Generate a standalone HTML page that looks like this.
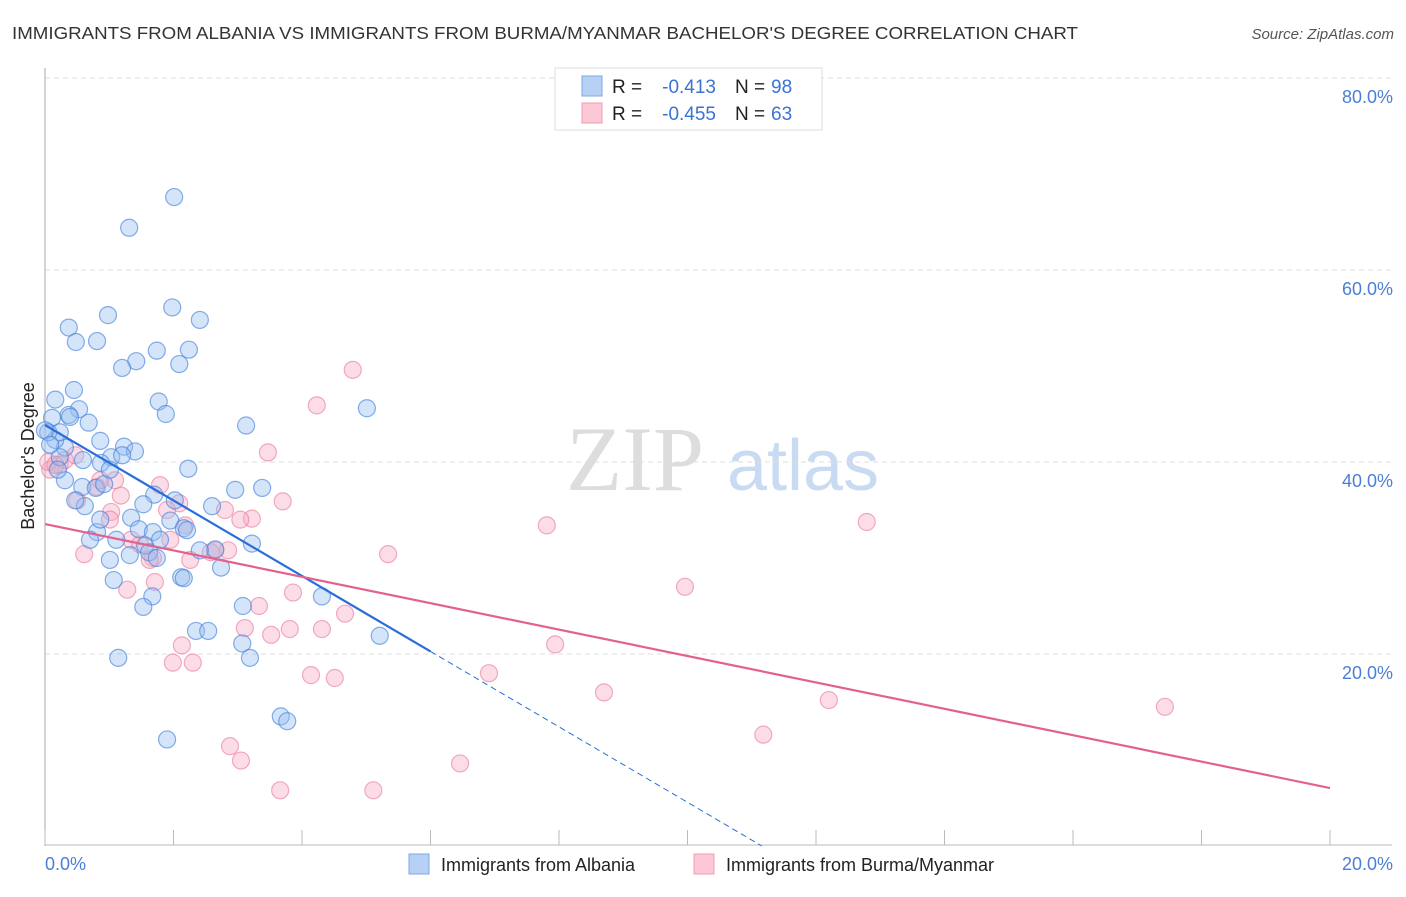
<!DOCTYPE html>
<html><head><meta charset="utf-8"><style>
body{margin:0;background:#fff;font-family:"Liberation Sans",sans-serif}
</style></head><body>
<svg id="c" width="1406" height="892" xmlns="http://www.w3.org/2000/svg">
<text x="12" y="39" font-size="17.5" fill="#333" textLength="1066" lengthAdjust="spacingAndGlyphs">IMMIGRANTS FROM ALBANIA VS IMMIGRANTS FROM BURMA/MYANMAR BACHELOR'S DEGREE CORRELATION CHART</text>
<text x="1394" y="39" font-size="15" fill="#555" font-style="italic" text-anchor="end">Source: ZipAtlas.com</text>
<g>
<text x="635" y="490" font-size="92" fill="#ddd" font-family="Liberation Serif,serif" text-anchor="middle">ZIP</text>
<text x="803" y="490" font-size="72" fill="#c9dbf2" text-anchor="middle">atlas</text>
</g>
<text transform="translate(34,456) rotate(-90)" font-size="18" fill="#222" text-anchor="middle">Bachelor's Degree</text>
<g id="grid"></g><g id="pts"></g><g id="lines"></g>
<g>
<rect x="555" y="68" width="267" height="62" fill="#fff" stroke="#ddd"/>
<rect x="582" y="76" width="20" height="20" fill="#b7d1f5" stroke="#7ea7e6"/>
<rect x="582" y="103" width="20" height="20" fill="#fcc8d6" stroke="#f09ab3"/>
<text x="612" y="93" font-size="19" fill="#222">R =</text>
<text x="716" y="93" font-size="19" fill="#3b72d6" text-anchor="end">-0.413</text>
<text x="735" y="93" font-size="19" fill="#222">N =</text>
<text x="771" y="93" font-size="19" fill="#3b72d6">98</text>
<text x="612" y="120" font-size="19" fill="#222">R =</text>
<text x="716" y="120" font-size="19" fill="#3b72d6" text-anchor="end">-0.455</text>
<text x="735" y="120" font-size="19" fill="#222">N =</text>
<text x="771" y="120" font-size="19" fill="#3b72d6">63</text>
</g>
<g>
<rect x="409" y="854" width="20" height="20" fill="#b7d1f5" stroke="#7ea7e6"/>
<text x="441" y="871" font-size="18" fill="#222">Immigrants from Albania</text>
<rect x="694" y="854" width="20" height="20" fill="#fcc8d6" stroke="#f09ab3"/>
<text x="726" y="871" font-size="18" fill="#222">Immigrants from Burma/Myanmar</text>
</g>
</svg>
<script>
const yTicks=[20,40,60,80];
const yTickLabels=["20.0%","40.0%","60.0%","80.0%"];
const xTickLabels=["0.0%","20.0%"];
const blueX=[2.01,1.31,0.37,0.98,0.81,0.48,1.98,2.41,1.74,2.24,1.42,1.20,2.09,0.45,1.77,1.88,5.01,0.16,0.53,0.11,0.37,0.68,3.13,0.86,1.23,1.40,1.03,0.87,0.31,0.16,0.23,0.05,0.59,2.23,1.20,0.58,0.79,0.92,0.31,1.01,1.70,2.96,3.38,2.60,1.53,0.62,1.34,0.81,1.46,1.68,1.95,2.16,2.21,2.65,3.22,1.11,1.56,1.62,1.74,1.01,2.74,2.12,2.16,1.07,4.31,1.67,1.53,3.08,2.35,2.54,3.07,3.19,5.21,1.14,3.67,3.77,1.90,0.23,0.39,0.0,0.08,0.2,0.47,0.70,1.32,0.86,1.79,2.41,2.02];
const blueY=[67.6,64.4,54.0,55.3,52.6,52.5,56.1,54.8,51.6,51.7,50.5,49.8,50.2,47.5,46.3,45.0,45.6,46.5,45.5,44.6,44.9,44.1,43.8,42.2,41.6,41.1,40.5,39.9,41.5,42.3,43.1,43.1,40.2,39.3,40.7,37.4,37.3,37.7,38.1,39.2,36.6,37.1,37.3,35.4,35.6,35.4,34.2,32.7,33.0,32.7,33.9,33.1,32.9,30.9,31.5,31.9,31.3,30.6,30.0,29.8,29.0,28.0,27.9,27.7,26.0,26.0,24.9,25.0,22.4,22.4,21.1,19.6,21.9,19.6,13.5,13.0,11.1,40.5,44.7,43.3,41.8,39.2,36.0,31.9,30.3,34.0,31.9,30.8,36.0];
const pinkX=[4.79,4.23,3.47,3.70,7.81,12.79,9.96,5.34,3.86,4.31,4.67,2.58,3.22,3.33,3.11,3.52,3.81,2.80,2.85,2.18,1.79,2.09,1.90,1.03,1.18,0.81,0.50,0.61,1.28,1.71,1.68,1.34,2.13,2.30,1.99,4.14,4.51,6.91,8.70,7.94,12.20,17.43,11.18,2.88,3.05,3.66,5.11,6.46,0.23,0.31,0.08,0.05,0.16,0.47,0.86,1.01,1.48,1.63,2.26,2.65,1.95,3.04,1.09];
const pinkY=[49.6,45.9,41.0,35.9,33.4,33.75,27.0,30.4,26.4,22.6,24.2,30.6,34.1,25.0,22.7,22.0,22.6,35.0,30.8,33.4,37.6,35.7,35.0,34.8,36.5,37.4,36.0,30.4,26.7,27.5,30.0,31.9,20.9,19.1,19.1,17.8,17.5,18.0,16.0,21.0,15.2,14.5,11.6,10.4,8.9,5.8,5.8,8.6,39.7,40.2,39.2,40.0,39.7,40.7,38.1,34.0,31.4,29.8,29.8,30.8,31.9,34.0,38.1];
const blueFit=[43.85,-3.93]; const blueSolidEnd=6.0;
const pinkFit=[33.54,-1.375];
const NS="http://www.w3.org/2000/svg";
const X=v=>45+v*64.25, Y=v=>846-v*9.6;
function mk(t,a,p){const e=document.createElementNS(NS,t);for(const k in a)e.setAttribute(k,a[k]);p.appendChild(e);return e;}
const grid=document.getElementById('grid');
yTicks.forEach((t,i)=>{
 const l=mk('line',{x1:45,x2:1392,y1:Y(t),y2:Y(t),stroke:'#ddd','stroke-dasharray':'5,4'},grid);
 
 
 const tx=mk('text',{x:1393,y:Y(t)+25,'font-size':18,fill:'#4a7fd4','text-anchor':'end'},grid);tx.textContent=yTickLabels[i];
 
 
});
mk('line',{x1:45,x2:45,y1:68,y2:846,stroke:'#aaa'},grid);
mk('line',{x1:45,x2:1392,y1:845,y2:845,stroke:'#bbb'},grid);
for(let i=0;i<=10;i++){const t=mk('line',{x1:X(i*2),x2:X(i*2),y1:830,y2:845,stroke:'#bbb'},grid);
 
 }
const xl0=mk('text',{x:45,y:870,'font-size':18,fill:'#4a7fd4'},grid);xl0.textContent=xTickLabels[0];


const xl1=mk('text',{x:1393,y:870,'font-size':18,fill:'#4a7fd4','text-anchor':'end'},grid);xl1.textContent=xTickLabels[1];


const pts=document.getElementById('pts');
pinkX.forEach((v,i)=>{const c=mk('circle',{cx:X(v),cy:Y(pinkY[i]),r:8.5,fill:'rgba(247,170,195,0.4)',stroke:'rgba(232,120,155,0.6)','stroke-width':1.2},pts);
 
 });
blueX.forEach((v,i)=>{const c=mk('circle',{cx:X(v),cy:Y(blueY[i]),r:8.5,fill:'rgba(150,190,240,0.4)',stroke:'rgba(70,130,220,0.65)','stroke-width':1.2},pts);
 
 });
const lines=document.getElementById('lines');
const f=(fit,x)=>fit[0]+fit[1]*x;
const b1=mk('line',{x1:X(0),y1:Y(f(blueFit,0)),x2:X(blueSolidEnd),y2:Y(f(blueFit,blueSolidEnd)),stroke:'#2a6dd9','stroke-width':2.2},lines);


const bEnd=-blueFit[0]/blueFit[1];
const b2=mk('line',{x1:X(blueSolidEnd),y1:Y(f(blueFit,blueSolidEnd)),x2:X(bEnd),y2:Y(0),stroke:'#2a6dd9','stroke-width':1,'stroke-dasharray':'6,4'},lines);


const p1=mk('line',{x1:X(0),y1:Y(f(pinkFit,0)),x2:X(20),y2:Y(f(pinkFit,20)),stroke:'#e3628d','stroke-width':2.2},lines);


</script>
</body></html>
